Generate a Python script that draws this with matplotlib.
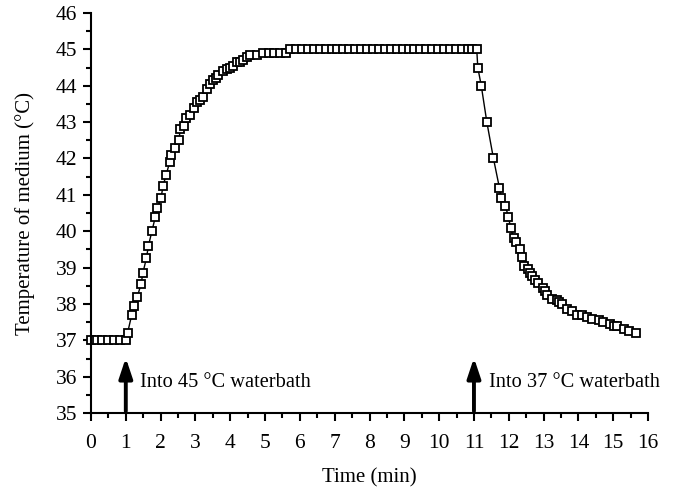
import matplotlib
matplotlib.use('Agg')
from matplotlib import pyplot as plt
from matplotlib.ticker import MultipleLocator

# --- data ---
time_min = [
    0.0, 0.17, 0.33, 0.5, 0.67, 0.83, 1.0,
    1.05, 1.17, 1.24, 1.33, 1.44, 1.49, 1.59, 1.65, 1.75, 1.85, 1.91,
    2.01, 2.07, 2.16, 2.26, 2.31, 2.41, 2.53, 2.56, 2.68, 2.72, 2.84,
    2.96, 3.04, 3.13, 3.23, 3.32, 3.42, 3.51, 3.59, 3.66, 3.80, 3.90,
    4.0, 4.09, 4.19, 4.29, 4.38, 4.48, 4.57, 4.76,
    4.93, 5.10, 5.27, 5.44, 5.60,
    5.72, 5.89, 6.06, 6.23, 6.40, 6.57, 6.74, 6.91, 7.08, 7.25, 7.42,
    7.59, 7.76, 7.93, 8.10, 8.27, 8.44, 8.61, 8.78, 8.95, 9.12, 9.29,
    9.46, 9.63, 9.80, 9.97, 10.14, 10.31, 10.48, 10.65, 10.82, 10.95, 11.08,
    11.11, 11.21, 11.37, 11.56, 11.73, 11.78, 11.90, 11.99, 12.05, 12.14,
    12.20, 12.31, 12.38, 12.44, 12.54, 12.60, 12.66, 12.76, 12.85, 12.97,
    13.03, 13.09, 13.24, 13.38, 13.45, 13.52, 13.67, 13.81, 13.96, 14.10,
    14.24, 14.39, 14.58, 14.72, 14.91, 15.01, 15.11, 15.30, 15.44, 15.66,
]
temp_c = [
    37.0, 37.0, 37.0, 37.0, 37.0, 37.0, 37.0,
    37.2, 37.7, 37.95, 38.2, 38.55, 38.85, 39.25, 39.6, 40.0, 40.4, 40.65,
    40.9, 41.25, 41.55, 41.9, 42.1, 42.3, 42.5, 42.8, 42.9, 43.1, 43.2,
    43.4, 43.55, 43.6, 43.7, 43.9, 44.05, 44.15, 44.2, 44.3, 44.4, 44.45,
    44.5, 44.55, 44.65, 44.65, 44.7, 44.8, 44.85, 44.85,
    44.9, 44.9, 44.9, 44.9, 44.9,
    45.0, 45.0, 45.0, 45.0, 45.0, 45.0, 45.0, 45.0, 45.0, 45.0, 45.0,
    45.0, 45.0, 45.0, 45.0, 45.0, 45.0, 45.0, 45.0, 45.0, 45.0, 45.0,
    45.0, 45.0, 45.0, 45.0, 45.0, 45.0, 45.0, 45.0, 45.0, 45.0, 45.0,
    44.5, 44.0, 43.0, 42.0, 41.2, 40.9, 40.7, 40.4, 40.1, 39.8,
    39.7, 39.5, 39.3, 39.05, 38.95, 38.85, 38.78, 38.65, 38.57, 38.45,
    38.35, 38.25, 38.15, 38.1, 38.05, 38.0, 37.85, 37.8, 37.7, 37.7,
    37.65, 37.6, 37.55, 37.5, 37.45, 37.4, 37.4, 37.3, 37.25, 37.2,
]
arrow_t = [1.0, 11.0]
arrow_text = ['Into 45 °C waterbath', 'Into 37 °C waterbath']

# --- drawing ---
plt.rcParams['font.family'] = ['Liberation Serif', 'DejaVu Serif']
fig = plt.figure(figsize=(6.81, 4.90), dpi=100)
ax = fig.add_axes([0.1336, 0.157, 0.818, 0.8165])

ax.plot(time_min, temp_c, color='k', linewidth=1.0, marker='s',
        markersize=6.2, markerfacecolor='white', markeredgecolor='k',
        markeredgewidth=1.3, clip_on=False)

for ti, txt in zip(arrow_t, arrow_text):
    ax.annotate('', xy=(ti, 36.52), xytext=(ti, 35.05),
                arrowprops=dict(arrowstyle='-|>,head_width=0.4,head_length=1.2',
                                color='k', linewidth=2.8, shrinkA=0, shrinkB=0))
    ax.text(ti + 0.42, 35.85, txt, fontsize=14.7, va='center', ha='left')

ax.set_xlim(0, 16)
ax.set_ylim(35, 46)
ax.xaxis.set_major_locator(MultipleLocator(1))
ax.xaxis.set_minor_locator(MultipleLocator(0.5))
ax.yaxis.set_major_locator(MultipleLocator(1))
ax.yaxis.set_minor_locator(MultipleLocator(0.5))
ax.tick_params(which='major', direction='out', length=6, width=1.5,
               labelsize=15.5, pad=9)
ax.tick_params(axis='y', which='major', pad=4)
ax.tick_params(which='minor', direction='out', length=3.5, width=1.5)
for side in ['top', 'right']:
    ax.spines[side].set_visible(False)
for side in ['left', 'bottom']:
    ax.spines[side].set_linewidth(1.5)

ax.set_xlabel('Time (min)', fontsize=15, labelpad=11)
ax.set_ylabel('Temperature of medium (°C)', fontsize=15, labelpad=15)

fig.savefig('out.png', dpi=100)
